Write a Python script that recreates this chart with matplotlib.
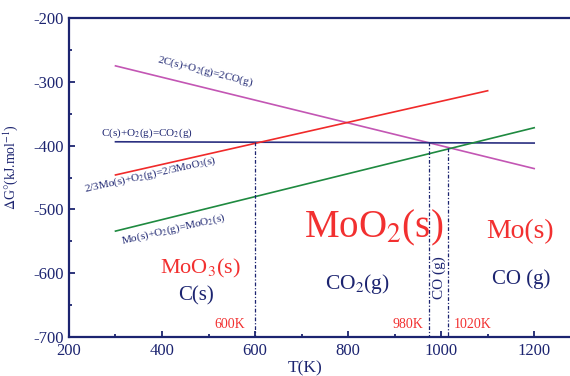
import matplotlib
matplotlib.use("Agg")
import matplotlib.pyplot as plt
from matplotlib.ticker import MultipleLocator

plt.rcParams['font.family'] = ['Liberation Serif', 'DejaVu Serif']
plt.rcParams['mathtext.fontset'] = 'stix'
plt.rcParams['axes.unicode_minus'] = False

# Reaction lines (T in K, dG in kJ/mol)
T_2CO = [300, 1200]; G_2CO = [-275, -436]
T_CO2 = [300, 1200]; G_CO2 = [-394, -396]
T_MoO3 = [300, 1100]; G_MoO3 = [-446, -314]
T_MoO2 = [300, 1200]; G_MoO2 = [-534, -372]

# Vertical boundary lines: x position, top value
vx = [600, 973, 1015]
vtop = [-395, -395, -404]

navy = '#1c2470'
red = '#f23030'

fig = plt.figure(figsize=(5.7, 3.76), dpi=100)
ax = fig.add_axes([0.121, 0.1037, 0.879, 0.8484])

ax.plot(T_2CO, G_2CO, color='#c356b4', lw=1.2)
ax.plot(T_CO2, G_CO2, color='#2a2f80', lw=1.2)
ax.plot(T_MoO3, G_MoO3, color='#f02a2a', lw=1.2)
ax.plot(T_MoO2, G_MoO2, color='#1f8a40', lw=1.2)

for x, t in zip(vx, vtop):
    ax.plot([x, x], [t, -700], color=navy, lw=0.9, ls=(0, (3, 1.5, 1, 1.5)))

ax.set_xlim(200, 1277)
ax.set_ylim(-700, -200)
ax.xaxis.set_major_locator(MultipleLocator(200))
ax.xaxis.set_minor_locator(MultipleLocator(100))
ax.yaxis.set_major_locator(MultipleLocator(100))
ax.yaxis.set_minor_locator(MultipleLocator(50))
ax.tick_params(which='both', direction='in', color=navy, labelcolor=navy,
               labelsize=12, width=1.3)
ax.tick_params(which='major', length=4)
ax.tick_params(which='minor', length=2.5)
ax.tick_params(axis='x', pad=4)
ax.tick_params(axis='y', pad=4)
ax.spines['right'].set_visible(False)
for s in ['left', 'top', 'bottom']:
    ax.spines[s].set_color(navy)
    ax.spines[s].set_linewidth(1.6)

ax.set_xlabel('T(K)', color=navy, fontsize=12.5)
ax.xaxis.set_label_coords(0.471, -0.074)
ax.set_ylabel(r'$\Delta$G$\degree$(kJ.mol$^{-1}$)', color=navy, fontsize=10)
ax.yaxis.set_label_coords(-0.098, 0.533)

kw = dict(ha='center', va='center', rotation_mode='anchor')
ax.text(492, -283, r'2C(s)+O$_2$(g)=2CO(g)', color=navy, fontsize=8, rotation=-14, **kw)
ax.text(368, -380, r'C(s)+O$_2$(g)=CO$_2$(g)', color=navy, fontsize=8, **kw)
ax.text(374, -446, r'2/3Mo(s)+O$_2$(g)=2/3MoO$_3$(s)', color=navy, fontsize=8, rotation=12.5, **kw)
ax.text(425, -531, r'Mo(s)+O$_2$(g)=MoO$_2$(s)', color=navy, fontsize=8, rotation=13, **kw)

ax.text(482, -592, r'MoO$_3$(s)', color=red, fontsize=16, **kw)
ax.text(474, -636, 'C(s)', color=navy, fontsize=15, **kw)
ax.text(854, -529, r'MoO$_2$(s)', color=red, fontsize=28, **kw)
ax.text(821, -617, r'CO$_2$(g)', color=navy, fontsize=15.5, **kw)
ax.text(996, -607, 'CO (g)', color=navy, fontsize=11, rotation=90, **kw)
ax.text(1170, -535, 'Mo(s)', color=red, fontsize=20, **kw)
ax.text(1172, -609, 'CO (g)', color=navy, fontsize=15, **kw)

ax.text(546, -681, '600K', color=red, fontsize=10, **kw)
ax.text(929, -681, '980K', color=red, fontsize=10, **kw)
ax.text(1068, -681, '1020K', color=red, fontsize=10, **kw)

fig.savefig('out.png', dpi=100)
